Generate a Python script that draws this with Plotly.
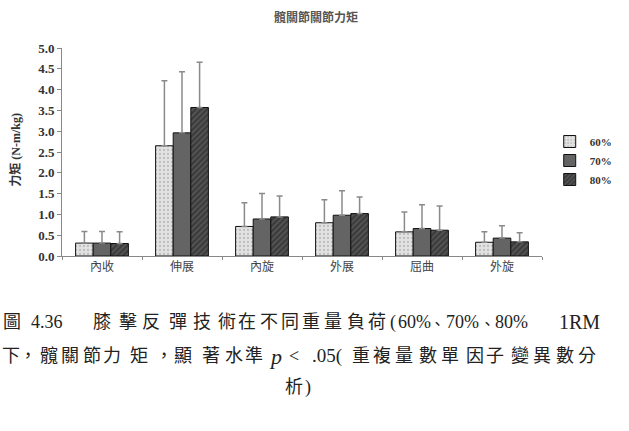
import plotly.graph_objects as go

categories = ["內收", "伸展", "內旋", "外展", "屈曲", "外旋"]
series_names = ["60%", "70%", "80%"]
mean_60 = [0.31, 2.65, 0.71, 0.80, 0.58, 0.33]
mean_70 = [0.31, 2.96, 0.89, 0.98, 0.66, 0.43]
mean_80 = [0.30, 3.57, 0.94, 1.02, 0.62, 0.34]
sd_60 = [0.28, 1.56, 0.57, 0.55, 0.48, 0.25]
sd_70 = [0.28, 1.47, 0.61, 0.59, 0.57, 0.30]
sd_80 = [0.28, 1.09, 0.50, 0.40, 0.58, 0.22]
y_ticks = [0, 0.5, 1, 1.5, 2, 2.5, 3, 3.5, 4, 4.5, 5]

chart_title = "髖關節關節力矩"
y_title = "力矩 (N-m/kg)"

W, H = 629, 431
ML, MR, MT, MB = 62, 69, 48, 175

styles = [
    dict(color="#e2e2e2", pattern=dict(shape=".", fgcolor="#9a9a9a", size=4, solidity=0.25)),
    dict(color="#646464", pattern=dict(shape="")),
    dict(color="#3c3c3c", pattern=dict(shape="/", fgcolor="#7a7a7a", size=4, solidity=0.35)),
]

fig = go.Figure()
for name, means, sds, st in zip(series_names, [mean_60, mean_70, mean_80], [sd_60, sd_70, sd_80], styles):
    fig.add_trace(go.Bar(
        name=name, x=categories, y=means,
        marker=dict(color=st["color"], pattern=st["pattern"], line=dict(color="#111", width=1)),
        error_y=dict(type="data", array=sds, arrayminus=[0] * len(sds), symmetric=False,
                     color="#8a8a8a", thickness=1.5, width=3),
    ))

def px_x(px):
    return (px - ML) / (W - ML - MR)

def px_y(py):
    return (H - MB - py) / (H - MT - MB)

def ann(text, x, y, font, xanchor="center", **kw):
    return dict(text=text, x=px_x(x), y=px_y(y), xref="paper", yref="paper", showarrow=False,
                xanchor=xanchor, yanchor="middle", font=font, **kw)

annotations = [
    ann(chart_title, 326, 16, dict(family="Noto Sans CJK TC", size=12, color="#555", weight="bold")),
    ann(y_title, 13, 150, dict(family="Liberation Serif, Noto Sans CJK TC", size=12, color="#333", weight="bold"),
        textangle=-90),
]

cap_font = dict(family="Liberation Serif, Noto Sans CJK TC", size=18, color="#222")
lat_font = dict(family="Liberation Serif", size=18, color="#222")
caption_tokens = [
    (322, [("圖", 10), ("膝", 103), ("擊", 130), ("反", 154), ("彈", 182), ("技", 207),
           ("術", 233), ("在", 254), ("不", 277), ("同", 299), ("重", 320), ("量", 343), ("負", 367),
           ("荷", 389)]),
    (356, [("下", 9), ("，", 27), ("髖", 48), ("關", 70), ("節", 93), ("力", 114), ("矩", 142),
           ("，", 168), ("顯", 188), ("著", 217), ("水", 240), ("準", 261), ("<", 303),
           ("重", 372), ("複", 394), ("量", 417), ("數", 442), ("單", 465), ("因", 490), ("子", 511),
           ("變", 537), ("異", 560), ("數", 584), ("分", 607)]),
    (387, [("析", 303), (")", 317)]),
]
comma_tokens = [(322, [("、", 452), ("、", 503)])]
latin_tokens = [
    (322, [("4.36", 46), ("(", 405), ("60%", 428), ("70%", 478), ("80%", 528)]),
]
for yy, toks in caption_tokens:
    for t, xx in toks:
        annotations.append(ann(t, xx, yy, cap_font))
for yy, toks in comma_tokens:
    for t, xx in toks:
        annotations.append(ann(t, xx, yy, dict(family="Noto Sans CJK TC", size=15, color="#222")))
for yy, toks in latin_tokens:
    for t, xx in toks:
        annotations.append(ann(t, xx, yy, lat_font))
annotations.append(ann("1RM", 599, 322, dict(family="Liberation Serif", size=20, color="#222")))
annotations.append(ann("<i>p</i>", 284, 356, dict(family="Liberation Serif", size=22, color="#222")))
annotations.append(ann(".05(", 319, 356, dict(family="Liberation Serif", size=19, color="#222"), xanchor="left"))

fig.update_layout(
    width=W, height=H,
    margin=dict(l=ML, r=MR, t=MT, b=MB, pad=0),
    paper_bgcolor="white", plot_bgcolor="white",
    barmode="group", bargap=0.34, bargroupgap=0,
    showlegend=True,
    legend=dict(x=px_x(568), y=px_y(127), xanchor="left", yanchor="top",
                font=dict(family="Liberation Serif", size=11, color="#333", weight="bold"),
                bgcolor="rgba(0,0,0,0)", tracegroupgap=0),
    xaxis=dict(showline=True, linecolor="#888", linewidth=1, ticks="outside", tickson="boundaries",
               ticklen=3, tickcolor="#888", showgrid=False,
               tickfont=dict(family="Noto Sans CJK TC", size=12, color="#444")),
    yaxis=dict(range=[0, 5], tickvals=y_ticks, tickformat=".1f", showline=True, linecolor="#888",
               linewidth=1, ticks="outside", ticklen=4, tickcolor="#888", showgrid=False, zeroline=False,
               tickfont=dict(family="Liberation Serif", size=13, color="#333", weight="bold")),
    annotations=annotations,
)

fig.write_html("out.html")
